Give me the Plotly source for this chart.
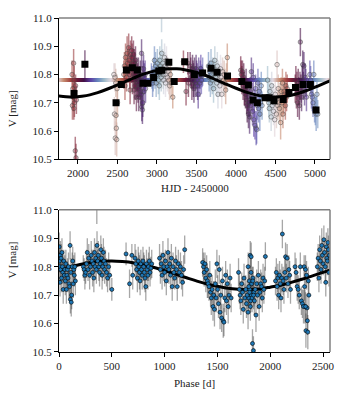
import numpy as np
import plotly.graph_objects as go
from plotly.colors import sample_colorscale

# V-band photometry: HJD - 2450000, magnitude, 1-sigma error
hjd = [
    1925, 1930, 1935, 1940, 1945, 1948, 1952, 1955, 1958, 1966, 1975, 1970, 1980, 2088,
    2455, 2462, 2468, 2472, 2478, 2482, 2486, 2490, 2495, 2500,
    2580, 2588, 2595, 2602, 2608, 2615, 2622, 2628, 2635, 2642, 2648, 2655, 2660, 2665, 2670, 2675, 2680, 2685, 2690, 2695,
    2702, 2705, 2708, 2710, 2713, 2716, 2720, 2724, 2728, 2732, 2736, 2740, 2745, 2750, 2755, 2760, 2765, 2770,
    2775, 2780, 2785, 2790, 2795, 2800, 2805, 2808, 2812, 2816, 2820, 2825, 2830, 2835, 2840, 2845, 2850, 2855,
    2930, 2938, 2945, 2952, 2960, 2968, 2975, 2982, 2990, 2998, 3005, 3012, 3018, 3025, 3030, 3036, 3042, 3048, 3054, 3060,
    3066, 3072, 3078, 3084, 3090, 3096, 3102, 3108, 3114, 3120, 3126, 3132, 3140, 3150, 3160, 3170, 3180, 3200, 3058,
    3335, 3368, 3390, 3398, 3420, 3428, 3435, 3442, 3450, 3456, 3462, 3468, 3475, 3482, 3488, 3495, 3502, 3508, 3515, 3522,
    3528, 3535, 3542, 3548, 3555, 3562, 3570, 3578,
    3652, 3660, 3668, 3676, 3684, 3692, 3700, 3708, 3716, 3724, 3732, 3740, 3748, 3756, 3764, 3772, 3780, 3788, 3796, 3804,
    3812, 3820, 3830, 3840, 3850, 3860, 3870, 3880, 3890,
    4060, 4068, 4075, 4082, 4090, 4098, 4105, 4112, 4120, 4128, 4135, 4142, 4150, 4158, 4165, 4172, 4180, 4188, 4195, 4202,
    4210, 4218, 4225, 4232, 4240, 4248, 4255, 4262, 4270, 4278, 4286, 4294, 4302, 4310, 4320, 4330,
    4400, 4408, 4415, 4422, 4430, 4438, 4445, 4452, 4460, 4468, 4475, 4482, 4490, 4497, 4505, 4512, 4520, 4528, 4535, 4542,
    4550, 4558, 4565, 4572, 4580, 4588, 4595, 4602, 4610, 4618, 4625, 4632, 4640, 4648,
    4750, 4758, 4765, 4772, 4780, 4788, 4795, 4802, 4810, 4815, 4822, 4830, 4838, 4845, 4852, 4860, 4868, 4876, 4884, 4892,
    4935, 4945, 4955, 4965, 4975, 4985, 4995, 5005, 5015, 5025, 5035,
]
vmag = [
    10.80, 10.69, 10.75, 10.72, 10.84, 10.68, 10.78, 10.70, 10.74, 10.53, 10.505, 10.76, 10.71, 10.836,
    10.80, 10.66, 10.79, 10.575, 10.77, 10.655, 10.61, 10.57, 10.75, 10.70,
    10.80, 10.83, 10.76, 10.86, 10.82, 10.79, 10.875, 10.84, 10.81, 10.895, 10.85, 10.80, 10.745, 10.87, 10.83, 10.82, 10.885, 10.86, 10.78, 10.84,
    10.87, 10.82, 10.80, 10.745, 10.84, 10.79, 10.83, 10.76, 10.85, 10.80, 10.78, 10.72, 10.82, 10.77, 10.79, 10.75, 10.81, 10.72,
    10.77, 10.79, 10.76, 10.80, 10.74, 10.73, 10.875, 10.685, 10.78, 10.675, 10.70, 10.80, 10.82, 10.74, 10.79, 10.77, 10.80, 10.75,
    10.80, 10.79, 10.77, 10.78, 10.81, 10.85, 10.79, 10.83, 10.77, 10.80, 10.84, 10.82, 10.78, 10.81, 10.76, 10.85, 10.80, 10.83, 10.79, 10.875,
    10.82, 10.84, 10.80, 10.78, 10.81, 10.86, 10.83, 10.77, 10.80, 10.85, 10.82, 10.79, 10.81, 10.78, 10.76, 10.80, 10.77, 10.72, 11.02,
    10.845, 10.74, 10.84, 10.77, 10.83, 10.81, 10.79, 10.76, 10.82, 10.80, 10.78, 10.75, 10.81, 10.79, 10.77, 10.82, 10.80, 10.78, 10.76, 10.73,
    10.81, 10.79, 10.77, 10.80, 10.82, 10.78, 10.795, 10.81,
    10.83, 10.79, 10.81, 10.77, 10.84, 10.80, 10.78, 10.82, 10.75, 10.80, 10.85, 10.79, 10.81, 10.77, 10.83, 10.73, 10.80, 10.78, 10.76, 10.82,
    10.79, 10.73, 10.81, 10.78, 10.80, 10.77, 10.745, 10.79, 10.86,
    10.815, 10.80, 10.78, 10.81, 10.76, 10.79, 10.75, 10.74, 10.73, 10.77, 10.71, 10.69, 10.72, 10.66, 10.70, 10.65, 10.74, 10.69, 10.81, 10.72,
    10.67, 10.79, 10.64, 10.70, 10.62, 10.75, 10.61, 10.605, 10.69, 10.77, 10.68, 10.74, 10.66, 10.70, 10.76, 10.69,
    10.78, 10.72, 10.70, 10.68, 10.74, 10.71, 10.65, 10.76, 10.69, 10.72, 10.67, 10.70, 10.64, 10.73, 10.71, 10.66, 10.835, 10.69, 10.75, 10.70,
    10.68, 10.72, 10.63, 10.74, 10.70, 10.77, 10.66, 10.71, 10.74, 10.73, 10.69, 10.76, 10.72, 10.75,
    10.75, 10.78, 10.73, 10.76, 10.70, 10.77, 10.74, 10.69, 10.76, 10.915, 10.75, 10.72, 10.78, 10.835, 10.76, 10.83, 10.74, 10.79, 10.77, 10.72,
    10.80, 10.78, 10.73, 10.72, 10.70, 10.80, 10.68, 10.67, 10.66, 10.73, 10.66,
]
verr = [
    0.05, 0.05, 0.04, 0.05, 0.05, 0.04, 0.05, 0.05, 0.04, 0.05, 0.05, 0.04, 0.05, 0.05,
    0.04, 0.06, 0.05, 0.06, 0.05, 0.05, 0.05, 0.06, 0.05, 0.05,
    0.05, 0.05, 0.05, 0.05, 0.04, 0.05, 0.06, 0.05, 0.04, 0.05, 0.05, 0.05, 0.05, 0.05, 0.04, 0.05, 0.05, 0.05, 0.05, 0.05,
    0.05, 0.04, 0.05, 0.05, 0.05, 0.04, 0.05, 0.05, 0.05, 0.05, 0.04, 0.05, 0.04, 0.05, 0.05, 0.05, 0.05, 0.05,
    0.05, 0.04, 0.05, 0.05, 0.05, 0.05, 0.05, 0.05, 0.05, 0.05, 0.05, 0.05, 0.05, 0.05, 0.05, 0.04, 0.05, 0.05,
    0.04, 0.04, 0.05, 0.04, 0.05, 0.05, 0.04, 0.05, 0.05, 0.04, 0.05, 0.04, 0.05, 0.05, 0.05, 0.05, 0.04, 0.05, 0.05, 0.05,
    0.04, 0.05, 0.05, 0.05, 0.04, 0.05, 0.05, 0.05, 0.05, 0.05, 0.05, 0.05, 0.05, 0.05, 0.05, 0.05, 0.05, 0.04, 0.07,
    0.04, 0.05, 0.04, 0.05, 0.05, 0.05, 0.04, 0.05, 0.05, 0.05, 0.06, 0.05, 0.05, 0.04, 0.05, 0.05, 0.05, 0.06, 0.05, 0.05,
    0.05, 0.04, 0.05, 0.05, 0.05, 0.05, 0.04, 0.05,
    0.05, 0.05, 0.04, 0.05, 0.05, 0.05, 0.05, 0.04, 0.05, 0.05, 0.05, 0.05, 0.04, 0.05, 0.05, 0.05, 0.05, 0.05, 0.04, 0.05,
    0.05, 0.05, 0.05, 0.04, 0.05, 0.05, 0.05, 0.05, 0.05,
    0.05, 0.05, 0.05, 0.04, 0.05, 0.05, 0.06, 0.05, 0.05, 0.05, 0.05, 0.06, 0.05, 0.05, 0.05, 0.06, 0.05, 0.05, 0.05, 0.05,
    0.05, 0.05, 0.06, 0.05, 0.05, 0.05, 0.06, 0.05, 0.05, 0.05, 0.05, 0.05, 0.06, 0.05, 0.05, 0.05,
    0.05, 0.05, 0.05, 0.05, 0.04, 0.05, 0.05, 0.05, 0.05, 0.05, 0.05, 0.05, 0.06, 0.05, 0.05, 0.05, 0.05, 0.05, 0.05, 0.05,
    0.05, 0.05, 0.06, 0.05, 0.05, 0.05, 0.05, 0.05, 0.05, 0.05, 0.05, 0.05, 0.05, 0.05,
    0.05, 0.05, 0.05, 0.05, 0.05, 0.05, 0.05, 0.05, 0.05, 0.05, 0.05, 0.05, 0.05, 0.05, 0.05, 0.05, 0.05, 0.05, 0.05, 0.05,
    0.05, 0.05, 0.05, 0.05, 0.05, 0.05, 0.05, 0.05, 0.06, 0.05, 0.05,
]

# binned means (black squares)
bin_hjd = [1950, 2088, 2482, 2550, 2613, 2689, 2752, 2823, 2886, 2957, 3024, 3060, 3150, 3218, 3351, 3473, 3578,
           3684, 3760, 3893, 4074, 4157, 4217, 4271, 4368, 4420, 4481, 4598, 4670, 4753, 4849, 4942, 5013]
bin_v = [10.733, 10.836, 10.700, 10.765, 10.816, 10.824, 10.816, 10.769, 10.769, 10.789, 10.812, 10.815, 10.843,
         10.775, 10.845, 10.800, 10.805, 10.822, 10.808, 10.795, 10.775, 10.763, 10.710, 10.700, 10.718, 10.718,
         10.707, 10.712, 10.736, 10.754, 10.765, 10.765, 10.674]
bin_err = [0.010, 0.008, 0.010, 0.006, 0.006, 0.005, 0.005, 0.006, 0.006, 0.006, 0.005, 0.005, 0.006, 0.008, 0.006,
           0.005, 0.005, 0.005, 0.005, 0.006, 0.006, 0.006, 0.006, 0.006, 0.010, 0.010, 0.005, 0.005, 0.006, 0.006,
           0.006, 0.006, 0.008]

# long-period fit
model_hjd = [1750, 1850, 1950, 2050, 2150, 2250, 2350, 2450, 2550, 2650, 2750, 2850, 2950, 3050, 3150, 3250, 3350,
             3450, 3550, 3650, 3750, 3850, 3950, 4050, 4150, 4250, 4350, 4450, 4550, 4650, 4750, 4850, 4950, 5050,
             5150, 5250]
model_v = [10.724, 10.721, 10.720, 10.723, 10.728, 10.736, 10.746, 10.757, 10.769, 10.781, 10.793, 10.803, 10.811,
           10.817, 10.820, 10.820, 10.817, 10.811, 10.803, 10.793, 10.781, 10.769, 10.757, 10.746, 10.736, 10.728,
           10.723, 10.720, 10.721, 10.724, 10.730, 10.739, 10.749, 10.761, 10.773, 10.785]
model_phase = [0, 100, 200, 300, 400, 500, 600, 700, 800, 900, 1000, 1100, 1200, 1300, 1400, 1500, 1600, 1700,
               1800, 1900, 2000, 2100, 2200, 2300, 2400, 2500, 2566]
model_phase_v = [10.788, 10.799, 10.808, 10.815, 10.819, 10.820, 10.818, 10.814, 10.806, 10.797, 10.786, 10.774,
                 10.762, 10.750, 10.739, 10.731, 10.724, 10.721, 10.720, 10.722, 10.728, 10.735, 10.745, 10.756,
                 10.768, 10.780, 10.788]

PERIOD = 2566.0
T0 = 2700.0
# colour coding of the time axis (short cycle)
CYC_P = 683.0
CYC_T0 = 2780.0

TWILIGHT = ["#e2d9e2", "#9ebbc9", "#6785be", "#5e43a5", "#421249",
            "#6e193a", "#a14240", "#c68b6f", "#e2d9e2"]
FONT = "Liberation Serif"


def cyc(t):
    return (0.5 - (np.asarray(t, dtype=float) - CYC_T0) / CYC_P) % 1.0


def rgba(c, a):
    return c.replace("rgb(", "rgba(").replace(")", f", {a})")


t = np.array(hjd, dtype=float)
v = np.array(vmag)
e = np.array(verr)
cval = cyc(t)
phase = (t - T0) % PERIOD

fig = go.Figure()

# --- top: time series, error bars coloured by time
NB = 36
idx = np.minimum((cval * NB).astype(int), NB - 1)
for b in range(NB):
    sel = np.where(idx == b)[0]
    if len(sel) == 0:
        continue
    xs, ys = [], []
    for i in sel:
        xs += [t[i], t[i], None]
        ys += [v[i] - e[i], v[i] + e[i], None]
    col = sample_colorscale(TWILIGHT, [(b + 0.5) / NB])[0]
    fig.add_trace(go.Scatter(x=xs, y=ys, mode="lines", line=dict(color=rgba(col, 0.6), width=1.5),
                             hoverinfo="skip", showlegend=False, xaxis="x", yaxis="y"))

# colour key along the mean level
band_x = np.arange(1760, 5195, 4.0)
fig.add_trace(go.Scatter(x=band_x, y=[10.781] * len(band_x), mode="markers",
                         marker=dict(symbol="square", size=3.5, color=cyc(band_x), colorscale=TWILIGHT,
                                     cmin=0, cmax=1, line=dict(width=0)),
                         hoverinfo="skip", showlegend=False, xaxis="x", yaxis="y"))

pt_cols = [rgba(c, 0.35) for c in sample_colorscale(TWILIGHT, list(cval))]
fig.add_trace(go.Scatter(x=t, y=v, mode="markers",
                         marker=dict(size=4.5, color=pt_cols, line=dict(color="rgba(70,70,70,0.6)", width=0.8)),
                         showlegend=False, xaxis="x", yaxis="y"))

fig.add_trace(go.Scatter(x=model_hjd, y=model_v, mode="lines", line=dict(color="black", width=3, shape="spline"),
                         showlegend=False, xaxis="x", yaxis="y"))

fig.add_trace(go.Scatter(x=bin_hjd, y=bin_v, mode="markers",
                         marker=dict(symbol="square", size=7, color="black"),
                         error_y=dict(type="data", array=bin_err, color="black", thickness=1.5, width=0),
                         showlegend=False, xaxis="x", yaxis="y"))

# --- bottom: phase-folded
fig.add_trace(go.Scatter(x=phase, y=v, mode="markers", marker=dict(size=0.1, color="rgba(0,0,0,0)"),
                         error_y=dict(type="data", array=e, color="rgba(60,60,60,0.45)", thickness=1.3, width=0),
                         showlegend=False, xaxis="x2", yaxis="y2"))
fig.add_trace(go.Scatter(x=model_phase, y=model_phase_v, mode="lines",
                         line=dict(color="black", width=3, shape="spline"),
                         showlegend=False, xaxis="x2", yaxis="y2"))
fig.add_trace(go.Scatter(x=phase, y=v, mode="markers",
                         marker=dict(size=4, color="#1f77b4", line=dict(color="black", width=0.6)),
                         showlegend=False, xaxis="x2", yaxis="y2"))

tick_font = dict(family=FONT, size=11, color="#222")
ax_common = dict(showgrid=False, zeroline=False, showline=True, linecolor="black", linewidth=1,
                 ticks="outside", ticklen=4, tickwidth=1, tickcolor="black", tickfont=tick_font)

fig.update_layout(
    width=347, height=400,
    margin=dict(l=59, r=16, t=16, b=48),
    paper_bgcolor="white", plot_bgcolor="white",
    xaxis=dict(domain=[0, 1], anchor="y", range=[1760, 5190],
               tickvals=[2000, 2500, 3000, 3500, 4000, 4500, 5000], **ax_common),
    yaxis=dict(domain=[0.577, 1], anchor="x", range=[10.5, 11.0],
               tickvals=[10.5, 10.6, 10.7, 10.8, 10.9, 11.0], tickformat=".1f", **ax_common),
    xaxis2=dict(domain=[0, 1], anchor="y2", range=[0, 2566],
                tickvals=[0, 500, 1000, 1500, 2000, 2500], **ax_common),
    yaxis2=dict(domain=[0, 0.4256], anchor="x2", range=[10.5, 11.0],
                tickvals=[10.5, 10.6, 10.7, 10.8, 10.9, 11.0], tickformat=".1f", **ax_common),
)

# top and right frame lines in grey
for xr, yr in (("x domain", "y domain"), ("x2 domain", "y2 domain")):
    fig.add_shape(type="line", xref=xr, yref=yr, x0=0, x1=1, y0=1, y1=1, line=dict(color="#808080", width=1.5))
    fig.add_shape(type="line", xref=xr, yref=yr, x0=1, x1=1, y0=0, y1=1, line=dict(color="#808080", width=1.5))

lab_font = dict(family=FONT, size=11, color="#222")
fig.add_annotation(text="HJD - 2450000", xref="paper", yref="paper", x=0.5, y=0.577, yshift=-29,
                   showarrow=False, font=lab_font, yanchor="middle")
fig.add_annotation(text="Phase [d]", xref="paper", yref="paper", x=0.5, y=0, yshift=-31,
                   showarrow=False, font=lab_font, yanchor="middle")
fig.add_annotation(text="V [mag]", xref="paper", yref="paper", x=0, xshift=-47, y=(0.577 + 1) / 2,
                   textangle=-90, showarrow=False, font=lab_font, xanchor="center")
fig.add_annotation(text="V [mag]", xref="paper", yref="paper", x=0, xshift=-47, y=0.4256 / 2,
                   textangle=-90, showarrow=False, font=lab_font, xanchor="center")

# no page margin so the figure sits at the window origin; no toolbar
fig.write_html("out.html", config={"displayModeBar": False},
               post_script="document.body.style.margin='0';")
